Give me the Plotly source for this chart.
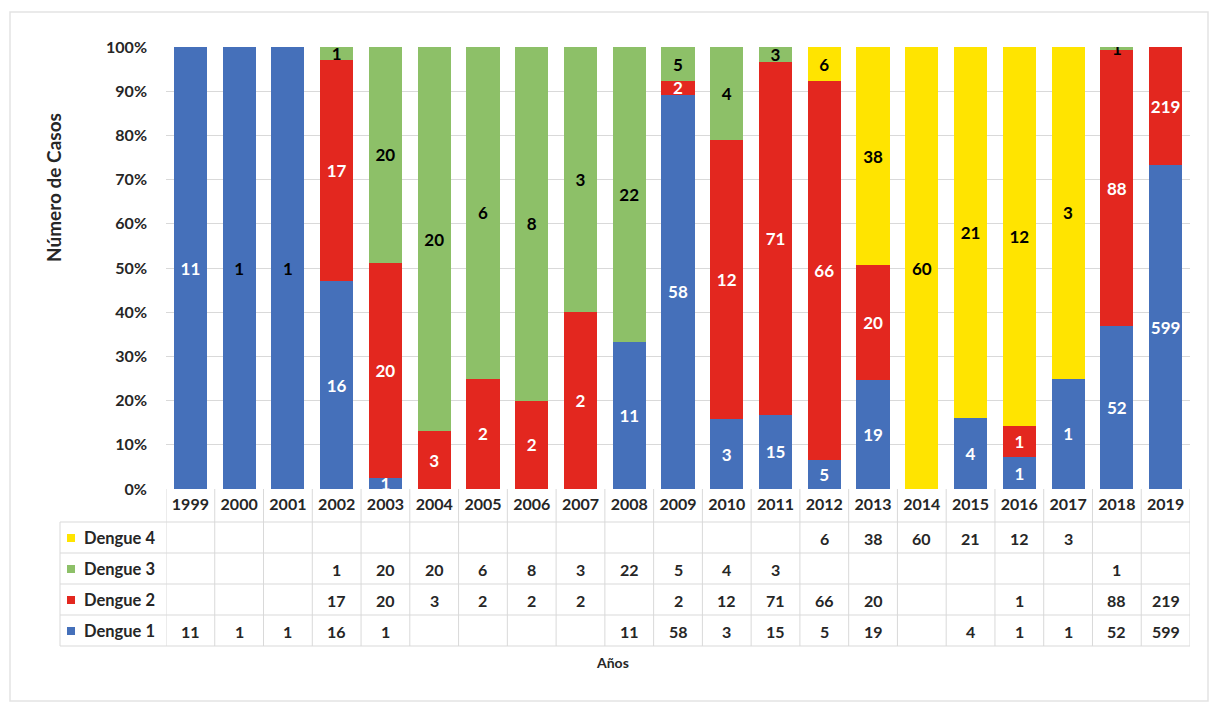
import plotly.graph_objects as go

years = [str(y) for y in range(1999, 2020)]
dengue1 = [11, 1, 1, 16, 1, None, None, None, None, 11, 58, 3, 15, 5, 19, None, 4, 1, 1, 52, 599]
dengue2 = [None, None, None, 17, 20, 3, 2, 2, 2, None, 2, 12, 71, 66, 20, None, None, 1, None, 88, 219]
dengue3 = [None, None, None, 1, 20, 20, 6, 8, 3, 22, 5, 4, 3, None, None, None, None, None, None, 1, None]
dengue4 = [None] * 13 + [6, 38, 60, 21, 12, 3, None, None]
series_names = ["Dengue 1", "Dengue 2", "Dengue 3", "Dengue 4"]
series_vals = [dengue1, dengue2, dengue3, dengue4]
colors = ["#4570BA", "#E3271F", "#8DC068", "#FFE400"]
yticks = [0, 10, 20, 30, 40, 50, 60, 70, 80, 90, 100]
ytick_labels = [f"{v}%" for v in yticks]

FONT = "Lato"
W, H = 1213, 704
ML, MR, MT, MB = 166, 23, 47, 215
PW = W - ML - MR
PH = H - MT - MB


def py(pix):
    return (H - MB - pix) / PH


def px(pix):
    return (pix - ML) / PW


# label text colours (white on blue/red, black on green/yellow)
label_colors = [
    ["white" if y not in ("2000", "2001") else "black" for y in years],
    ["white"] * len(years),
    ["black"] * len(years),
    ["black"] * len(years),
]

fig = go.Figure()
for name, vals, col, tcol in zip(series_names, series_vals, colors, label_colors):
    fig.add_trace(go.Bar(
        x=years, y=vals, name=name,
        marker=dict(color=col, line=dict(width=0)),
        text=["" if v is None else str(v) for v in vals],
        textposition="inside", insidetextanchor="middle",
        textangle=0, constraintext="none",
        textfont=dict(family=FONT, size=17, color=tcol, weight="bold"),
        showlegend=False,
    ))

shapes = []
annotations = []
grid_col = "#D9D9D9"
txt_col = "#262626"

# table rows: pixel centres
row_centres = {"Dengue 4": 538, "Dengue 3": 569, "Dengue 2": 600, "Dengue 1": 631}
row_lines = [522, 553, 584, 615, 646]
table_left = 60

for yl in row_lines:
    shapes.append(dict(type="line", xref="paper", yref="paper",
                       x0=px(table_left), x1=1.0, y0=py(yl), y1=py(yl),
                       line=dict(color=grid_col, width=1)))
shapes.append(dict(type="line", xref="paper", yref="paper",
                   x0=px(table_left), x1=px(table_left), y0=py(522), y1=py(646),
                   line=dict(color=grid_col, width=1)))
for i in range(len(years) + 1):
    shapes.append(dict(type="line", xref="x", yref="paper",
                       x0=i - 0.5, x1=i - 0.5, y0=0, y1=py(646),
                       line=dict(color=grid_col, width=1)))

for name, vals, col in zip(series_names, series_vals, colors):
    yc = py(row_centres[name])
    shapes.append(dict(type="rect", xref="paper", yref="paper",
                       x0=px(67), x1=px(75), y0=yc - 4 / PH, y1=yc + 4 / PH,
                       fillcolor=col, line=dict(width=0)))
    annotations.append(dict(text=name, xref="paper", yref="paper",
                            x=px(82), y=yc, xanchor="left", yanchor="middle",
                            showarrow=False,
                            font=dict(family=FONT, size=16.5, color=txt_col, weight="bold")))
    for i, v in enumerate(vals):
        if v is None:
            continue
        annotations.append(dict(text=str(v), xref="x", yref="paper",
                                x=i, y=yc, xanchor="center", yanchor="middle",
                                showarrow=False,
                                font=dict(family=FONT, size=16, color=txt_col, weight="bold")))

annotations.append(dict(text="Años", xref="paper", yref="paper", x=px(612), y=py(662),
                        xanchor="center", yanchor="middle", showarrow=False,
                        font=dict(family=FONT, size=14, color=txt_col, weight="bold")))
annotations.append(dict(text="Número de Casos", xref="paper", yref="paper", x=px(53), y=py(188),
                        xanchor="center", yanchor="middle", showarrow=False, textangle=-90,
                        font=dict(family=FONT, size=19, color=txt_col, weight="bold")))

shapes.append(dict(type="rect", xref="paper", yref="paper",
                   x0=px(10), x1=px(1208), y0=py(701), y1=py(12),
                   line=dict(color="#E3E3E3", width=1.5), fillcolor="rgba(0,0,0,0)", layer="below"))

fig.update_layout(
    width=W, height=H,
    margin=dict(l=ML, r=MR, t=MT, b=MB),
    barmode="stack", barnorm="percent", bargap=0.32,
    paper_bgcolor="white", plot_bgcolor="white",
    font=dict(family=FONT, color=txt_col),
    xaxis=dict(type="category", range=[-0.5, len(years) - 0.5],
               showgrid=False, zeroline=False, showline=False, ticks="",
               tickfont=dict(family=FONT, size=16, color=txt_col, weight="bold"),
               ticklabelstandoff=4),
    yaxis=dict(range=[0, 100], tickmode="array", tickvals=yticks, ticktext=ytick_labels,
               showgrid=True, gridcolor=grid_col, gridwidth=1,
               zeroline=False, showline=False, ticks="",
               tickfont=dict(family=FONT, size=16, color=txt_col, weight="bold"),
               ticklabelstandoff=18),
    shapes=shapes,
    annotations=annotations,
)

fig.write_html("out.html")
